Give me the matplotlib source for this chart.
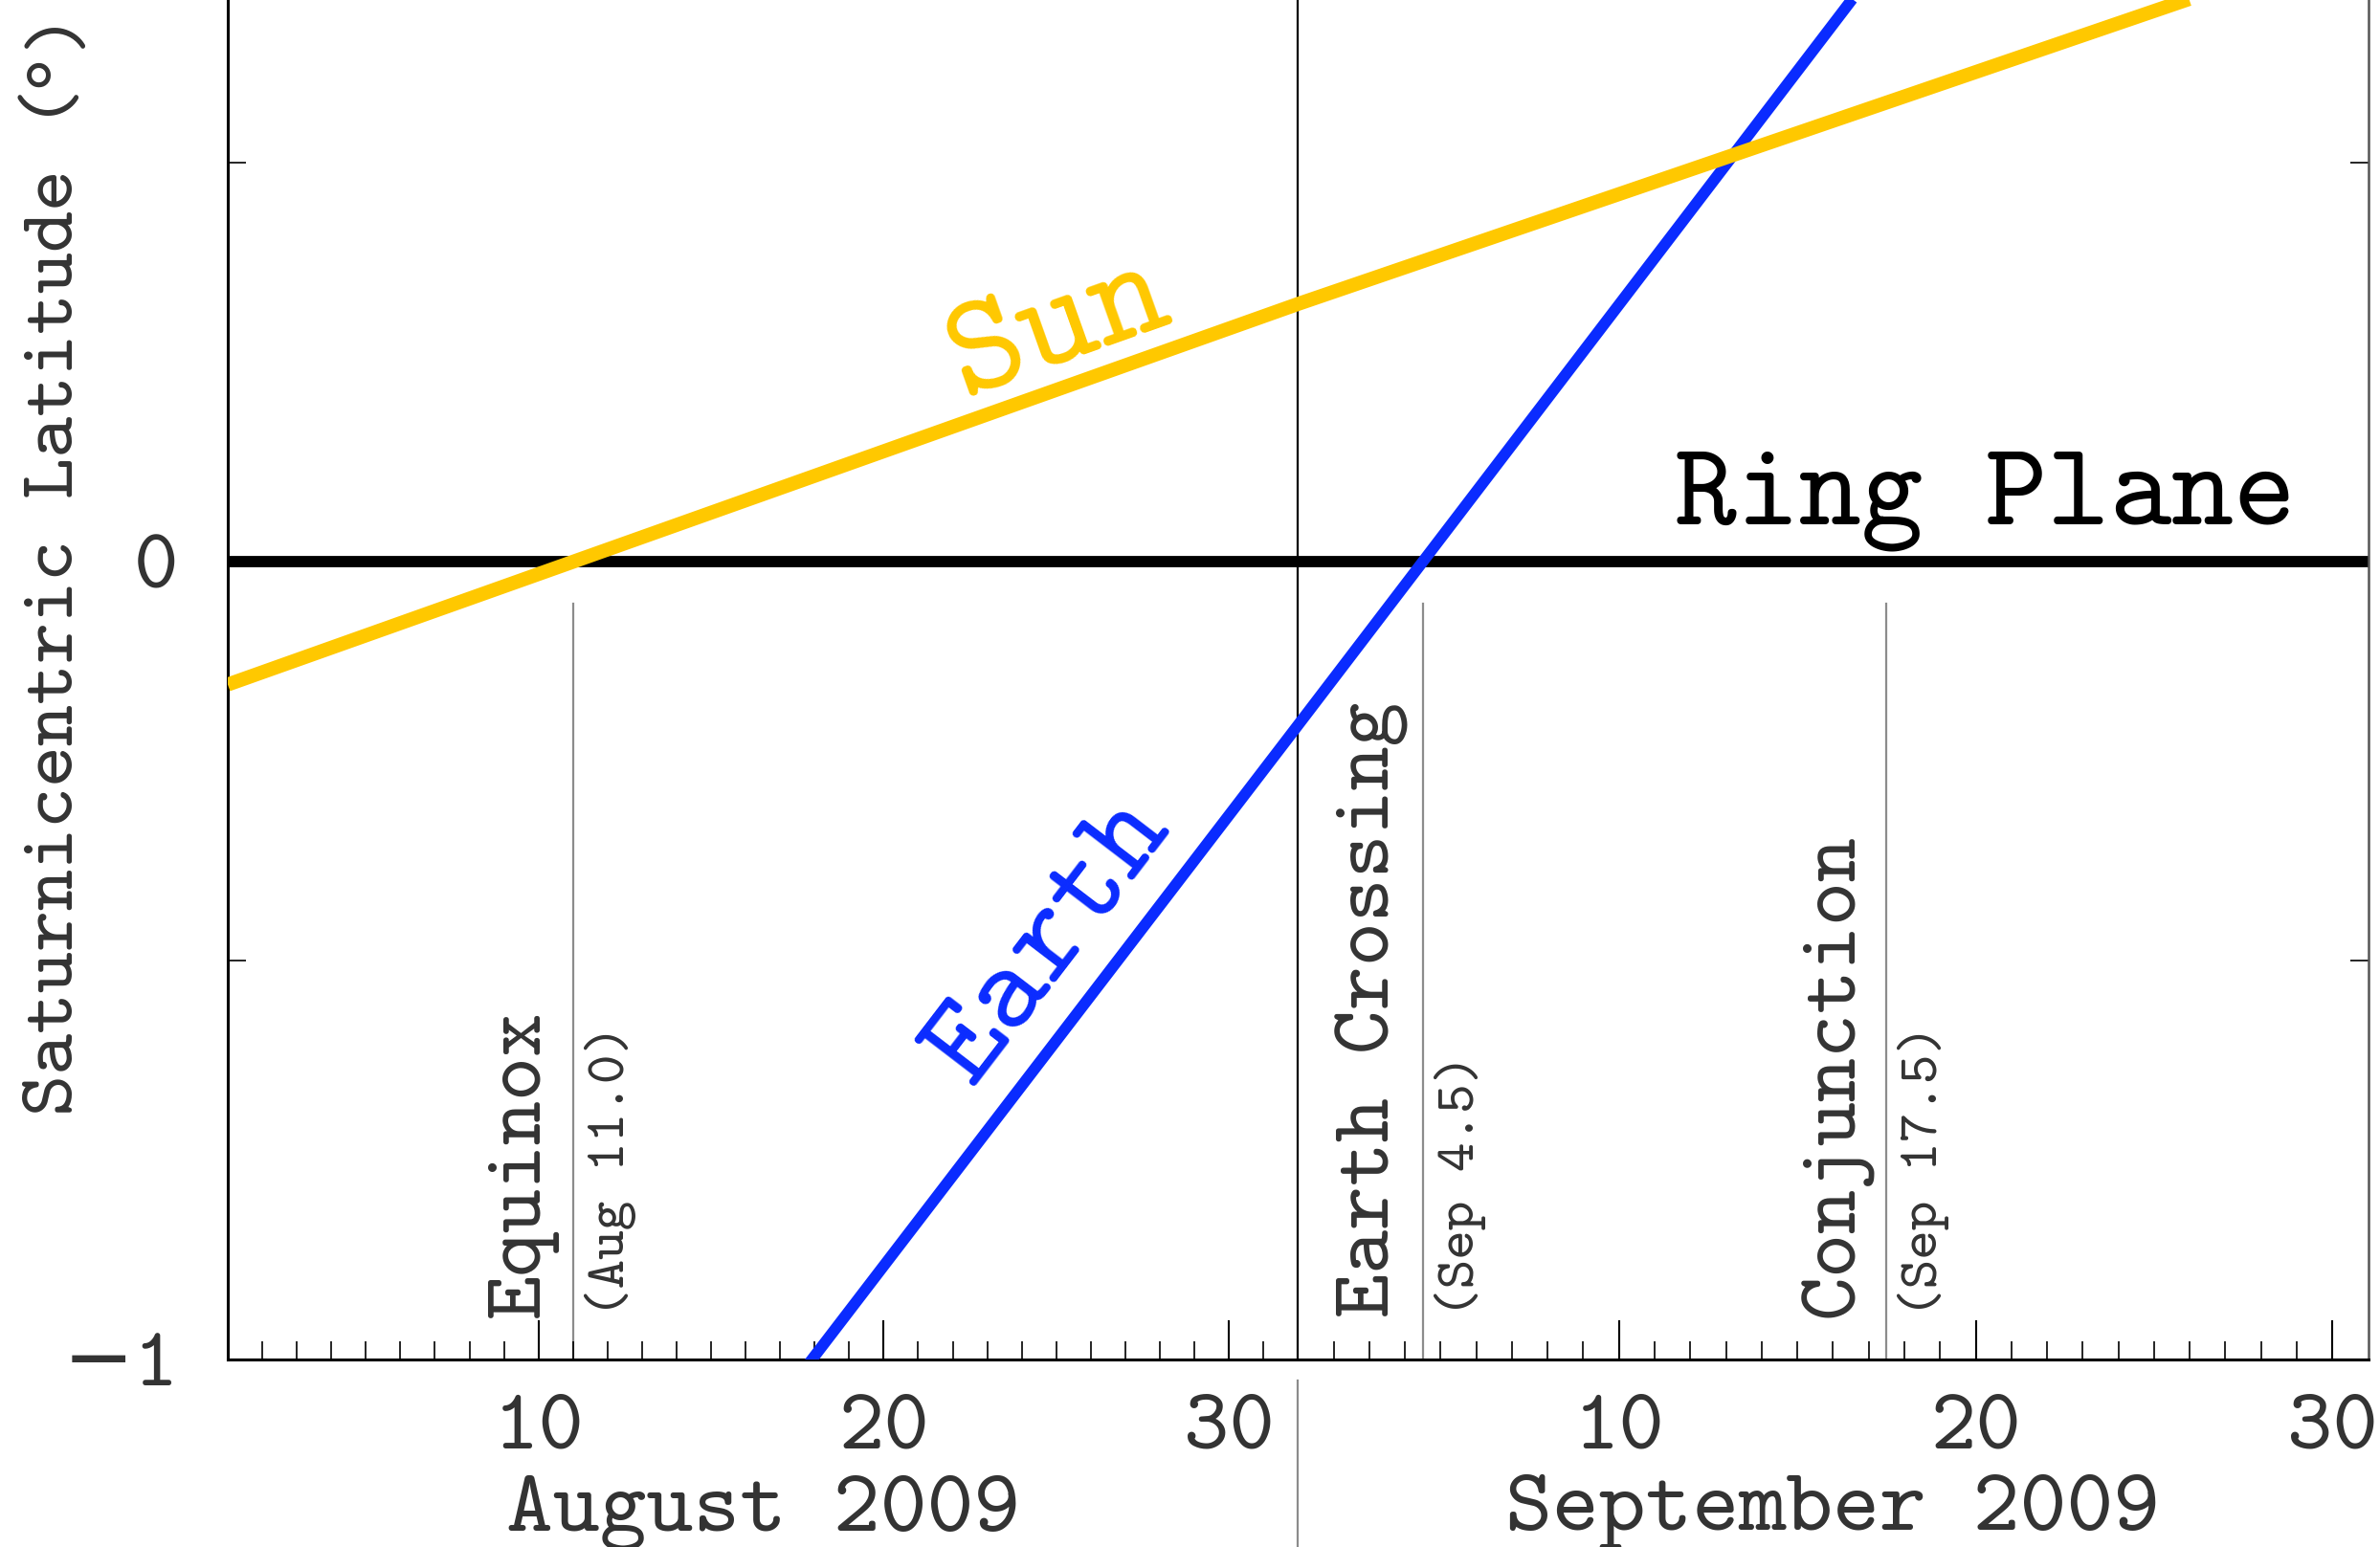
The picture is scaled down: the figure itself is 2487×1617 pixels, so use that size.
import math
import matplotlib
matplotlib.use("Agg")
import matplotlib.pyplot as plt
import matplotlib.transforms as mtransforms

plt.rcParams["font.family"] = ["cmtt10", "DejaVu Sans"]

# Each month takes the same width on the time axis
MONTH_INDEX = {"Aug": 0, "Sep": 1, "Oct": 2}
MONTH_DAYS = {"Aug": 31, "Sep": 30, "Oct": 31}


def month_pos(month, day):
    return MONTH_INDEX[month] + (day - 1) / MONTH_DAYS[month]


# Saturnicentric latitude of the Sun and of the Earth (degrees)
sun_dates = [("Aug", 1.0), ("Sep", 1.0), ("Oct", 1.0)]
sun_lat = [-0.154, 0.323, 0.782]
earth_dates = [("Aug", 15.0), ("Sep", 1.0), ("Sep", 4.5), ("Oct", 1.0)]
earth_lat = [-1.165, -0.205, 0.0, 1.552]

# Marked events
event_names = ["Equinox", "Earth Crossing", "Conjunction"]
event_dates = [("Aug", 11.0), ("Sep", 4.5), ("Sep", 17.5)]
event_notes = ["(Aug 11.0)", "(Sep 4.5)", "(Sep 17.5)"]

months = ["Aug", "Sep"]
month_labels = ["August 2009", "September 2009"]
day_ticks = [10, 20, 30]
ytick_vals = [-1, 0]
ytick_labels = ["\u22121", "0"]
yminor_vals = [-0.5, 0.5]
ylabel_parts = ["Saturnicentric Latitude (", "\u00b0", ")"]

SUN = "#FFC800"
EARTH = "#0A2BFF"
TEXT = "#333333"

fig = plt.figure(figsize=(24.87, 16.17), dpi=100)
ax = fig.add_axes([0.0957, 0.1212, 0.8993, 0.8788])
ax.set_xlim(0, 2)
ax.set_ylim(-1, 0.704)

# Ring plane and month boundary
ax.axhline(0, color="black", lw=8.5, zorder=2)
ax.axvline(1, color="black", lw=1.6, zorder=1.5)

sun_x = [month_pos(m, d) for m, d in sun_dates]
earth_x = [month_pos(m, d) for m, d in earth_dates]
ax.plot(earth_x, earth_lat, color=EARTH, lw=8.5, zorder=3, solid_capstyle="butt")
ax.plot(sun_x, sun_lat, color=SUN, lw=10.5, zorder=4, solid_capstyle="butt")

# Event markers with labels
for name, (m, d), note in zip(event_names, event_dates, event_notes):
    x = month_pos(m, d)
    ax.plot([x, x], [-1, -0.053], color="#8c8c8c", lw=1.6, zorder=1)
    left = mtransforms.offset_copy(ax.transData, fig=fig, x=-38, y=0, units="points")
    right = mtransforms.offset_copy(ax.transData, fig=fig, x=28, y=0, units="points")
    ax.text(x, -0.947, name, transform=left, rotation=90, ha="center",
            va="bottom", fontsize=63, color=TEXT)
    ax.text(x, -0.947, note, transform=right, rotation=90, ha="center",
            va="bottom", fontsize=42, color=TEXT)


def screen_angle(xs, ys):
    p0 = ax.transData.transform((xs[0], ys[0]))
    p1 = ax.transData.transform((xs[1], ys[1]))
    return math.degrees(math.atan2(p1[1] - p0[1], p1[0] - p0[0]))


ax.text(0.777, 0.289, "Sun", color=SUN, fontsize=108,
        rotation=screen_angle(sun_x[:2], sun_lat[:2]),
        rotation_mode="anchor", ha="center", va="center", zorder=5)
ax.text(0.771, -0.477, "Earth", color=EARTH, fontsize=94,
        rotation=screen_angle(earth_x[:2], earth_lat[:2]),
        rotation_mode="anchor", ha="center", va="center", zorder=5)
ax.text(1.932, 0.0475, "Ring Plane", color="black", fontsize=89,
        ha="right", va="baseline", zorder=5)

# Axis ticks
major_x = [month_pos(m, d) for m in months for d in day_ticks]
minor_x = [month_pos(m, d) for m in months
           for d in range(2, MONTH_DAYS[m] + 1) if d not in day_ticks]
ax.set_xticks(major_x)
ax.set_xticklabels([str(d) for m in months for d in day_ticks])
ax.set_xticks(minor_x, minor=True)
ax.tick_params(axis="x", which="major", direction="in", length=29.5, width=1.5,
               labelsize=65, pad=26, labelcolor=TEXT, top=False)
ax.tick_params(axis="x", which="minor", direction="in", length=13.7, width=1.2,
               top=False)

ax.set_yticks(ytick_vals)
ax.set_yticklabels(ytick_labels)
ax.set_yticks(yminor_vals, minor=True)
ax.tick_params(axis="y", which="major", direction="in", length=29.5, width=1.5,
               labelsize=64, pad=37, labelcolor=TEXT, left=True, right=True)
ax.tick_params(axis="y", which="minor", direction="in", length=14, width=1.2,
               left=True, right=True)

ax.spines["top"].set_visible(False)
ax.spines["left"].set_linewidth(2.2)
ax.spines["bottom"].set_linewidth(2.2)
ax.spines["right"].set_linewidth(1.8)
ax.spines["right"].set_color("#555555")

# Month names below the day numbers, separated by a thin rule
below = mtransforms.blended_transform_factory(ax.transData, fig.transFigure)
for m, label in zip(months, month_labels):
    ax.text(month_pos(m, 1) + 0.5, 0.0111, label, transform=below,
            ha="center", va="baseline", fontsize=67, color=TEXT)
ax.plot([1, 1], [-0.0155, -0.14],
        transform=mtransforms.blended_transform_factory(ax.transData, ax.transAxes),
        color="#8c8c8c", lw=1.6, clip_on=False)

# Vertical axis title, written piece by piece so the degree sign
# comes from a font that has it
renderer = fig.canvas.get_renderer()
y_px = 1617 - 1166
x_fig = 60 / 2487
families = [["cmtt10"], ["DejaVu Sans"], ["cmtt10"]]
for part, fam in zip(ylabel_parts, families):
    t = fig.text(x_fig, y_px / 1617, part, rotation=90, ha="center",
                 va="bottom", fontsize=59, color=TEXT, family=fam)
    bb = t.get_window_extent(renderer)
    y_px = bb.y1

fig.savefig("out.png", dpi=100, facecolor="white")
